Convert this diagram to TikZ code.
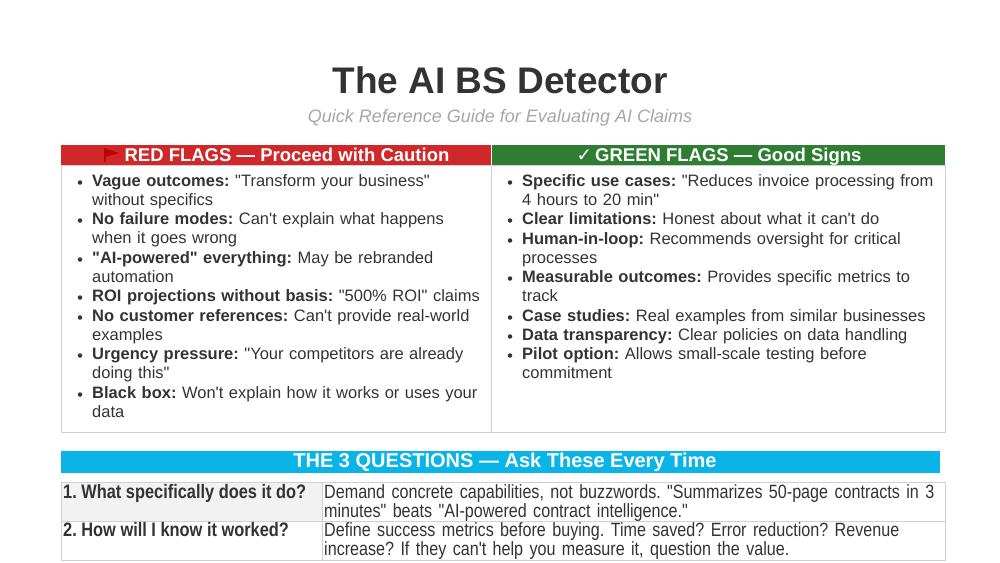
\documentclass[tikz,border=0pt]{standalone}
\usepackage{fontspec}
\setmainfont{Liberation Sans}[Ligatures=TeXReset]
\newfontfamily\dejavu{DejaVu Sans}
\newfontfamily\narrow{Liberation Sans}[FakeStretch=0.84,Ligatures=TeXReset]
\definecolor{redh}{HTML}{D0282A}
\definecolor{greenh}{HTML}{2E7D32}
\definecolor{cyanh}{HTML}{0BB4E6}
\definecolor{gridc}{HTML}{D0D0D0}
\definecolor{textc}{HTML}{333333}
\definecolor{subc}{HTML}{A6A6A6}
\definecolor{rowg}{HTML}{F2F2F2}
\hyphenpenalty=10000 \exhyphenpenalty=10000
\frenchspacing
\begin{document}
\begin{tikzpicture}[x=1pt,y=-1pt,
  hdr/.style={text=white,font=\fontsize{18.5}{20}\selectfont\bfseries,inner sep=0,anchor=base},
  item/.style={anchor=north west,inner sep=0,align=left,text=textc,font=\fontsize{16.5}{19.3}\selectfont\frenchspacing},
  bul/.style={circle,fill=textc,inner sep=0,minimum size=4.5pt},
  cell/.style={anchor=north west,inner sep=0,align=left,text=textc,font=\fontsize{19.2}{19.3}\narrow\frenchspacing}]
\useasboundingbox (0,0) rectangle (1000,562);
\node[text=textc,font=\fontsize{37}{40}\selectfont\bfseries] (title) at (500,80) {The AI BS Detector};
\node[text=subc,font=\fontsize{18}{20}\selectfont\itshape] (sub) at (500,118) {Quick Reference Guide for Evaluating AI Claims};
% headers
\fill[redh] (61,145) rectangle (491,165);
\fill[greenh] (492,145) rectangle (945,165);
\node[hdr] (rh) at (287,161.5) {RED FLAGS — Proceed with Caution};
\fill[red!75!black] (104,148) -- (104,162) -- (105.5,162) -- (105.5,157) -- (119,153) -- cycle;
\node[hdr] (gh) at (719,161.5) {{\dejavu\bfseries ✓}\,GREEN FLAGS — Good Signs};
\draw[gridc] (61,165) rectangle (945,432);
\draw[gridc] (491.5,165) -- (491.5,432);
% red items
\foreach \y/\t in {
  174/{\textbf{Vague outcomes:} "Transform your business"\newline without specifics},
  212/{\textbf{No failure modes:} Can't explain what happens when it goes wrong},
  251/{\textbf{"AI-powered" everything:} May be rebranded automation},
  289/{\textbf{ROI projections without basis:} "500\% ROI" claims},
  309/{\textbf{No customer references:} Can't provide real-world examples},
  347/{\textbf{Urgency pressure:} "Your competitors are already doing this"},
  386/{\textbf{Black box:} Won't explain how it works or uses your data}}{
  \node[bul] at (80,\y+8.5) {};
  \node[item,text width=394] at (92,\y) {\t};
}
\foreach \y/\t in {
  174/{\textbf{Specific use cases:} "Reduces invoice processing from 4 hours to 20 min"},
  212/{\textbf{Clear limitations:} Honest about what it can't do},
  232/{\textbf{Human-in-loop:} Recommends oversight for critical processes},
  270/{\textbf{Measurable outcomes:} Provides specific metrics to track},
  309/{\textbf{Case studies:} Real examples from similar businesses},
  328/{\textbf{Data transparency:} Clear policies on data handling},
  347/{\textbf{Pilot option:} Allows small-scale testing before commitment}}{
  \node[bul] at (510,\y+8.5) {};
  \node[item,text width=420] at (522,\y) {\t};
}
% questions
\fill[cyanh] (61,451) rectangle (940,473);
\node[text=white,inner sep=0,font=\fontsize{20}{20}\selectfont\bfseries] (qh) at (505,462) {THE 3 QUESTIONS — Ask These Every Time};
\fill[rowg] (61,482) rectangle (322,521);
\draw[gridc] (61,482) rectangle (945,560);
\draw[gridc] (61,521) -- (945,521);
\draw[gridc] (322,482) -- (322,560);
\node[cell,font=\fontsize{19.5}{19.3}\narrow\bfseries] (q1) at (63,484) {1. What specifically does it do?};
\node[cell,text width=619] (a1) at (324,484) {Demand concrete capabilities, not buzzwords. "Summarizes 50-page contracts in 3 minutes" beats "AI-powered contract intelligence."};
\node[cell,font=\fontsize{19.5}{19.3}\narrow\bfseries] (q2) at (63,522) {2. How will I know it worked?};
\node[cell,text width=619] (a2) at (324,522) {Define success metrics before buying. Time saved? Error reduction? Revenue increase? If they can't help you measure it, question the value.};
\end{tikzpicture}
\end{document}
